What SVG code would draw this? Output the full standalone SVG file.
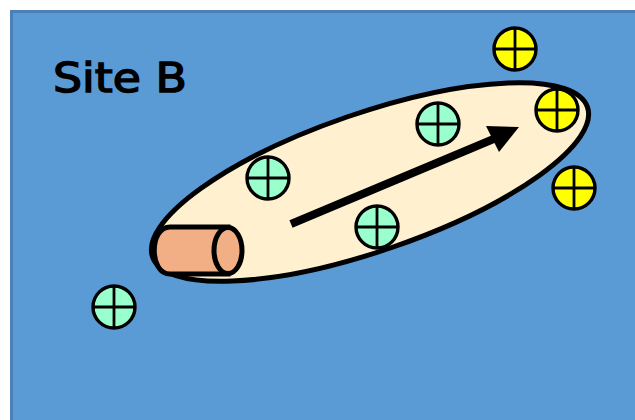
<svg xmlns="http://www.w3.org/2000/svg" width="635" height="420" viewBox="0 0 635 420">
<defs>
<style>
.bg{fill:#5b9bd5}
.edge{fill:none;stroke:#4a82b8;stroke-width:3}
.blob{fill:#fff1d0;stroke:#000;stroke-width:5}
.cyl{fill:#f2ae84;stroke:#000;stroke-width:5}
.pt{stroke:#000;stroke-width:3.4}
.teal{fill:#99ffcc}
.yel{fill:#ffff00}
.cross{stroke:#000;stroke-width:2.8;fill:none}
.lbl{font-family:"Comic Sans MS","DejaVu Sans",sans-serif;font-size:40px;fill:#000;stroke:#000;stroke-width:1.4}
</style>
</defs>
<rect x="10" y="10" width="625" height="410" class="bg"/>
<path d="M11.5 420 V11.5 H635" class="edge"/>
<g id="label"><text class="lbl" x="53" y="92" textLength="134" lengthAdjust="spacingAndGlyphs">Site B</text></g>
<g id="region">
<ellipse class="blob" cx="370" cy="182" rx="230" ry="69" transform="rotate(-19 370 182)"/>
</g>
<g id="cylinder">
<path class="cyl" d="M228 227 H170 C149 227 149 274 170 274 H228 Z"/>
<ellipse class="cyl" cx="228" cy="250.5" rx="14" ry="23"/>
</g>
<g id="connectors">
<line x1="291" y1="224" x2="496" y2="138" stroke="#000" stroke-width="8"/>
<polygon points="519,127 486,126 499,152" fill="#000"/>
</g>
<g id="t1"><circle class="pt teal" cx="268" cy="178" r="21"/><path class="cross" d="M247 178 H289 M268 157 V199"/></g>
<g id="t2"><circle class="pt teal" cx="438" cy="124" r="21"/><path class="cross" d="M417 124 H459 M438 103 V145"/></g>
<g id="t3"><circle class="pt teal" cx="377" cy="227" r="21"/><path class="cross" d="M356 227 H398 M377 206 V248"/></g>
<g id="t4"><circle class="pt teal" cx="114" cy="307" r="21"/><path class="cross" d="M93 307 H135 M114 286 V328"/></g>
<g id="y1"><circle class="pt yel" cx="515" cy="49" r="21"/><path class="cross" d="M494 49 H536 M515 28 V70"/></g>
<g id="y2"><circle class="pt yel" cx="557" cy="110" r="21"/><path class="cross" d="M536 110 H578 M557 89 V131"/></g>
<g id="y3"><circle class="pt yel" cx="574" cy="188" r="21"/><path class="cross" d="M553 188 H595 M574 167 V209"/></g>
</svg>
